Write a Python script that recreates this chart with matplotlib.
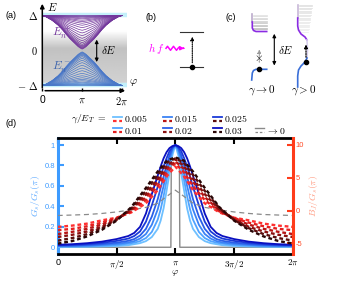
import numpy as np
import matplotlib
matplotlib.use("Agg")
import matplotlib.pyplot as plt

plt.rcParams['mathtext.fontset'] = 'cm'
plt.rcParams['font.family'] = ['Liberation Sans', 'DejaVu Sans']

PI = np.pi

# ---------------- panel (d) data ----------------
# curves are symmetric about phi = pi, values given at |phi - pi| / pi
gamma_labels = ['0.005', '0.01', '0.015', '0.02', '0.025', '0.03']
blues = ['#6ec0ff', '#4fa3ff', '#3a82f5', '#2a5fe8', '#1a3ad8', '#0a10c0']
reds = ['#ff3030', '#e41e1e', '#b81414', '#8a1010', '#5a0c0c', '#2a0606']

gs_dist = [0, 0.025, 0.05, 0.075, 0.1, 0.125, 0.15, 0.2, 0.25, 0.3, 0.35, 0.4, 0.5, 0.625, 0.75, 0.875, 1.0]
gs_0005 = [1.0, 0.90, 0.72, 0.55, 0.38, 0.26, 0.18, 0.10, 0.06, 0.04, 0.03, 0.02, 0.012, 0.008, 0.005, 0.004, 0.003]
gs_001 = [1.0, 0.94, 0.80, 0.65, 0.50, 0.37, 0.27, 0.15, 0.09, 0.06, 0.045, 0.035, 0.022, 0.015, 0.01, 0.008, 0.007]
gs_0015 = [1.0, 0.96, 0.86, 0.73, 0.60, 0.48, 0.37, 0.22, 0.13, 0.085, 0.06, 0.047, 0.033, 0.023, 0.016, 0.012, 0.011]
gs_002 = [1.0, 0.97, 0.90, 0.80, 0.69, 0.58, 0.47, 0.30, 0.18, 0.115, 0.08, 0.063, 0.045, 0.032, 0.023, 0.018, 0.016]
gs_0025 = [1.0, 0.98, 0.94, 0.87, 0.79, 0.69, 0.59, 0.41, 0.25, 0.155, 0.11, 0.085, 0.062, 0.043, 0.031, 0.024, 0.02]
gs_003 = [1.0, 0.99, 0.97, 0.93, 0.87, 0.79, 0.70, 0.52, 0.33, 0.20, 0.14, 0.11, 0.08, 0.055, 0.04, 0.03, 0.025]
gs_all = [gs_0005, gs_001, gs_0015, gs_002, gs_0025, gs_003]

bj_dist = [0, 0.07, 0.15, 0.25, 0.375, 0.5, 0.625, 0.75, 0.875, 1.0]
bj_0005 = [6.7, 5.3, 3.1, 1.1, -0.3, -1.1, -1.5, -2.0, -2.3, -2.5]
bj_001 = [7.2, 5.9, 3.75, 1.6, -0.15, -1.15, -1.85, -2.4, -2.8, -3.0]
bj_0015 = [7.5, 6.4, 4.4, 2.05, 0.0, -1.25, -2.15, -2.8, -3.25, -3.6]
bj_002 = [7.8, 6.85, 4.85, 2.5, 0.15, -1.4, -2.5, -3.2, -3.7, -4.05]
bj_0025 = [7.95, 7.35, 5.45, 3.0, 0.35, -1.45, -2.7, -3.6, -4.2, -4.6]
bj_003 = [8.1, 7.65, 5.95, 3.45, 0.5, -1.55, -2.95, -3.95, -4.65, -5.05]
bj_all = [bj_0005, bj_001, bj_0015, bj_002, bj_0025, bj_003]
bj_zero = [3.1, 2.2, 1.1, 0.48, 0.09, -0.22, -0.45, -0.61, -0.69, -0.76]

gs_zero_phi = [0, 0.962, 0.966, 0.985, 1.0, 1.015, 1.034, 1.038, 2.0]
gs_zero = [0, 0, 0.95, 0.99, 1.0, 0.99, 0.95, 0, 0]

# ---------------- panel (a) schematic ----------------
env_dist = [0, 0.05, 0.1, 0.2, 0.3, 0.4, 0.5, 0.6, 0.75, 0.9, 1.0]
env_E = [0.04, 0.07, 0.11, 0.22, 0.33, 0.46, 0.60, 0.72, 0.86, 0.96, 1.0]
level_frac = [0, 0.015, 0.03, 0.05, 0.075, 0.1, 0.14, 0.19, 0.25, 0.32, 0.4, 0.48,
              0.56, 0.64, 0.71, 0.77, 0.82, 0.86, 0.9, 0.93, 0.96, 0.98, 1.0]


def mirror(dist, vals):
    d = np.asarray(dist, float)
    v = np.asarray(vals, float)
    phi = np.concatenate([1 - d[::-1], 1 + d[1:]]) * PI
    return phi, np.concatenate([v[::-1], v[1:]])


fig = plt.figure(figsize=(3.39, 2.82), dpi=100)
W, H = 339.0, 282.0


def px_axes(l, t, r, b):
    return fig.add_axes([l / W, 1 - b / H, (r - l) / W, (b - t) / H])


# ======== (d) ========
ax = px_axes(57.7, 138.3, 293, 253.7)
axr = ax.twinx()
for gs, c in zip(gs_all, blues):
    p, v = mirror(gs_dist, gs)
    ax.plot(p, v, color=c, lw=1.3, zorder=3)
ax.plot(np.array(gs_zero_phi) * PI, gs_zero, color='#8a8a8a', lw=1.0, zorder=2)

p, v = mirror(bj_dist, bj_zero)
axr.plot(p, v, color='#8a8a8a', lw=0.9, ls=(0, (4, 3)))
for bj, c in zip(bj_all, reds):
    p, v = mirror(bj_dist, bj)
    axr.plot(p, v, color=c, lw=1.7, ls=(0, (1.6, 1.2)))

ax.set_xlim(0, 2 * PI)
ax.set_ylim(-0.063, 1.066)
axr.set_ylim(-6.59, 11.02)
ax.set_xticks([0, PI / 2, PI, 3 * PI / 2, 2 * PI])
ax.set_xticklabels(['0', r'$\pi/2$', r'$\pi$', r'$3\pi/2$', r'$2\pi$'], fontsize=6.5)
ax.tick_params(axis='x', direction='in', length=4, width=1.5, top=True, pad=3)
ax.set_yticks([0, 0.2, 0.4, 0.6, 0.8, 1.0])
ax.set_yticklabels(['0', '0.2', '0.4', '0.6', '0.8', '1'], fontsize=5.5, color='#3d9bff')
ax.tick_params(axis='y', direction='in', length=4, width=1.5, color='#3d9bff', right=False, pad=2)
axr.set_yticks([-5, 0, 5, 10])
axr.set_yticklabels(['-5', '0', '5', '10'], fontsize=5.5, color='#ff4a26')
axr.tick_params(axis='y', direction='in', length=4, width=1.5, color='#ff3c1a', left=False, pad=2)

ax.spines['left'].set_color('#3d9bff')
ax.spines['left'].set_linewidth(2.2)
ax.spines['right'].set_visible(False)
for s in ['top', 'bottom']:
    ax.spines[s].set_linewidth(2)
    axr.spines[s].set_visible(False)
axr.spines['left'].set_visible(False)
axr.spines['right'].set_color('#ff3c1a')
axr.spines['right'].set_linewidth(2.2)

ax.set_ylabel(r'$G_s/G_s(\pi)$', fontsize=7, color='#5aa8ff', labelpad=2)
axr.set_ylabel(r'$B_J/G_s(\pi)$', fontsize=7, color='#ff9a80', labelpad=2)

# ======== (a) ========
axa = px_axes(42.3, 1, 128, 90.7)
xa_max = 2 * PI * (128 - 42.3) / (122 - 42.3)
ya_min, ya_max = -1.149, 1.414

grad_E = np.linspace(1, -1, 200)
grad_val = np.interp(grad_E, [-1.0, -0.9, 0.05, 0.55, 1.0], [0.88, 0.82, 0.76, 1.0, 1.0])
axa.imshow(grad_val[:, None], cmap='gray', vmin=0, vmax=1, aspect='auto',
           extent=(0, xa_max - 0.1, -1, 1), zorder=0)
axa.hlines([1, -1], 0, xa_max - 0.1, color='#c4f0fa', lw=3.2, zorder=1)

pa, ea = mirror(env_dist, env_E)
for f in level_frac:
    lev = ea + (1 - ea) * f
    axa.plot(pa, lev, color='#73379c', lw=0.5, zorder=2)
    axa.plot(pa, -lev, color='#4a78c8', lw=0.5, zorder=2)

axa.set_xlim(0, xa_max)
axa.set_ylim(ya_min, ya_max)
for s in axa.spines.values():
    s.set_visible(False)
axa.annotate('', xy=(0, ya_max), xytext=(0, ya_min),
             arrowprops=dict(arrowstyle='-|>', lw=1.1, color='k', mutation_scale=6), annotation_clip=False)
axa.annotate('', xy=(xa_max, ya_min), xytext=(0, ya_min),
             arrowprops=dict(arrowstyle='-|>', lw=1.1, color='k', mutation_scale=6), annotation_clip=False)
axa.set_xticks([0, PI, 2 * PI])
axa.set_xticklabels(['0', r'$\pi$', r'$2\pi$'], fontsize=7.5)
axa.tick_params(axis='x', direction='in', length=2, width=1, pad=3)
axa.set_yticks([-1, 0, 1])
axa.set_yticklabels([r'$-\ \Delta$', r'$0$', r'$\Delta$'], fontsize=7.5)
axa.tick_params(axis='y', length=0, pad=3)
axa.text(0.35, 1.24, r'$E$', fontsize=8, va='center')
axa.text(xa_max + 0.05, -0.92, r'$\varphi$', fontsize=8, va='center')
axa.text(0.75, 0.48, r'$E_n^+$', fontsize=8.5, color='#73379c', va='center')
axa.text(0.75, -0.5, r'$E_n^-$', fontsize=8.5, color='#3d64ad', va='center')
dE_phi = 1.365 * 2 * PI / 2
axa.annotate('', xy=(dE_phi, 0.39), xytext=(dE_phi, -0.41),
             arrowprops=dict(arrowstyle='<|-|>', lw=0.8, color='k', mutation_scale=5))
axa.text(dE_phi + 0.35, 0.0, r'$\delta E$', fontsize=8, va='center')

# ======== overlay: (b), (c), legend, panel labels ========
ov = fig.add_axes([0, 0, 1, 1])
ov.set_xlim(0, W)
ov.set_ylim(H, 0)
ov.axis('off')

for lab, x, y in [('(a)', 6, 15), ('(b)', 146, 17), ('(c)', 226, 17), ('(d)', 5, 123)]:
    ov.text(x, y, lab, fontsize=6.5, va='center')
ov.text(175, 273, r'$\varphi$', fontsize=7, ha='center', va='center')

# (b)
b_levels = [32.3, 67.3]
for y in b_levels:
    ov.plot([180, 203], [y, y], color='#333333', lw=0.8)
ov.plot([192.3], [67.3], 'o', color='k', ms=3)
ov.annotate('', xy=(192.3, 34), xytext=(192.3, 65.5),
            arrowprops=dict(arrowstyle='-|>', lw=0.8, ls=(0, (1, 1)), color='k', mutation_scale=5))
ov.text(156, 48.5, r'$h\,f$', fontsize=8, color='#ff00ff', ha='center', va='center')
wave_x = [166, 167.5, 169, 170.5, 172, 173.5, 175, 176.5, 178, 179.5, 181]
wave_y = [48.3, 46.3, 48.3, 50.3, 48.3, 46.3, 48.3, 50.3, 48.3, 46.8, 48.3]
ov.plot(wave_x, wave_y, color='#ff00ff', lw=1.1)
ov.annotate('', xy=(187, 48.3), xytext=(180.5, 48.3),
            arrowprops=dict(arrowstyle='-|>', lw=1.1, color='#ff00ff', mutation_scale=5))

# (c) left, gamma -> 0
hatch_y = np.arange(15, 30, 1.4)
for i, y in enumerate(hatch_y):
    ov.plot([253, 267], [y, y], color='#999999', lw=0.5, alpha=0.35 + 0.5 * i / len(hatch_y))
ov.plot([252.3, 252.3], [14, 22], color='#bbaacc', lw=1.2)
ov.plot([252.3, 252.3, 253.5, 256, 266.7], [22, 28, 30.5, 31.5, 31.5], color='#8a2be2', lw=1.2)
ov.plot([251.7, 252.3, 253.5, 256, 266.7], [80, 73, 70.5, 69.3, 69.3], color='#3a6fd8', lw=1.2)
ov.plot([259.3], [68.8], 'o', color='k', ms=3)
ov.annotate('', xy=(259.3, 46.7), xytext=(259.3, 65),
            arrowprops=dict(arrowstyle='-|>', lw=0.8, ls=(0, (1, 1)), color='#999999', mutation_scale=5))
ov.text(259.0, 58.3, r'$\times$', fontsize=8, ha='center', va='center')
ov.annotate('', xy=(274.3, 31), xytext=(274.3, 68.3),
            arrowprops=dict(arrowstyle='<|-|>', lw=0.8, color='k', mutation_scale=5))
ov.text(278.5, 50, r'$\delta E$', fontsize=8, va='center')
ov.text(261.7, 90, r'$\gamma\rightarrow 0$', fontsize=8, ha='center', va='center')

# (c) right, gamma > 0
fill_y = np.arange(5, 33, 1.4)
for i, y in enumerate(fill_y):
    ov.plot([298.5, 312 - 0.2 * i], [y, y], color='#aaaaaa', lw=0.5, alpha=0.45 - 0.012 * i)
ov.plot([297.7, 297.7], [5, 18], color='#c8b8d8', lw=1.2)
ov.plot([297.7, 297.7, 298.5, 301, 305, 307], [18, 26, 30, 34, 37, 40], color='#8a2be2', lw=1.2)
ov.plot([307, 307.5, 307], [40, 50, 58], color='#d8d0ee', lw=1.2)
ov.plot([307, 305, 301, 298.5, 297.7, 297.7], [58, 62, 66, 70, 76, 87], color='#3a6fd8', lw=1.2)
ov.plot([306], [62.3], 'o', color='k', ms=3)
ov.annotate('', xy=(306, 41.7), xytext=(306, 60),
            arrowprops=dict(arrowstyle='-|>', lw=0.9, ls=(0, (1, 1)), color='k', mutation_scale=5))
ov.text(303.3, 90, r'$\gamma > 0$', fontsize=8, ha='center', va='center')

# legend for (d)
ov.text(89, 119, r'$\gamma/E_T\ =$', fontsize=7, ha='center', va='center')
leg_x = [113, 163, 213, 255]
leg_y = [119, 130.7]
leg_slots = [(0, 0), (1, 0), (0, 1), (1, 1), (0, 2), (1, 2)]
for k, (row, col) in enumerate(leg_slots):
    x0, y0 = leg_x[col], leg_y[row]
    ov.plot([x0, x0 + 9], [y0 - 2.3, y0 - 2.3], color=blues[k], lw=1.3)
    ov.plot([x0, x0 + 9], [y0 + 1.5, y0 + 1.5], color=reds[k], lw=1.6, ls=(0, (1.6, 1.2)))
    ov.text(x0 + 11, y0, '$' + gamma_labels[k] + '$', fontsize=7, va='center')
x0, y0 = leg_x[3], leg_y[1]
ov.plot([x0, x0 + 9], [y0 - 2.3, y0 - 2.3], color='#8a8a8a', lw=1.0)
ov.plot([x0, x0 + 9], [y0 + 1.5, y0 + 1.5], color='#8a8a8a', lw=0.9, ls=(0, (2, 1.5)))
ov.text(x0 + 11, y0, r'$\rightarrow 0$', fontsize=7, va='center')

fig.savefig('out.png', dpi=100)
